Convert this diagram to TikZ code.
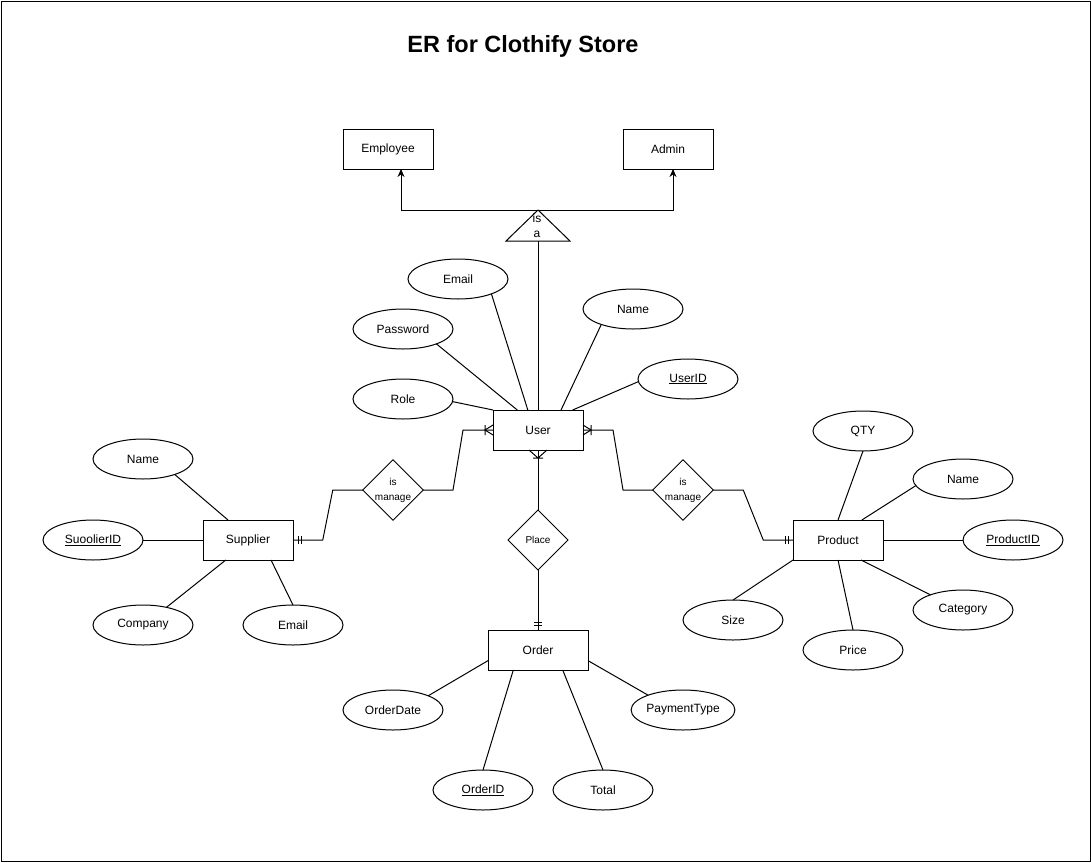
\documentclass[tikz,border=0pt]{standalone}
\usepackage{fontspec}
\setmainfont{Liberation Sans}
\usepackage{tikz}
\usetikzlibrary{shapes.geometric, arrows.meta, positioning}

\begin{document}
\begin{tikzpicture}[x=1pt, y=-1pt, line width=1pt, node distance=60pt]
	% Styles
	\tikzstyle{entity} = [draw, rectangle, minimum height=40pt, minimum width=90pt, inner sep=0pt, outer sep=0pt, font=\fontsize{12}{14}\selectfont]
	\tikzstyle{attr} = [draw, ellipse, minimum height=40pt, minimum width=100pt, inner sep=0pt, outer sep=0pt, font=\fontsize{12}{14}\selectfont]
	\tikzstyle{rel} = [draw, diamond, aspect=1, minimum size=60pt, inner sep=0pt, outer sep=0pt, align=center, font=\fontsize{10}{15}\selectfont]
	\tikzstyle{arrow} = [-{Stealth[length=8pt, width=7pt]}]
	\tikzset{
		pics/oneormany/.style={code={\draw (-8,-5) -- (-8,5) (0,-#1) -- (-8,0) -- (0,#1);}},
		pics/mandone/.style={code={\draw (-5,-4) -- (-5,4) (-8,-4) -- (-8,4);}}
	}

	\useasboundingbox (0,0) rectangle (1091,862);
	\draw (1,1) rectangle (1090,861);

	% Title
	\node (title) at (523,46) {\fontsize{23.5}{27}\selectfont\bfseries ER for Clothify Store};

	% Nodes
	\node (employee) [entity] at (388,149) {Employee};
	\node (admin) [entity, right=190pt of employee] {Admin};
	\draw (506,241) -- (538,210) -- (570,241) -- cycle;
	\coordinate (isatop) at (538,210);
	\coordinate (isabase) at (538,241);
	\node (isa) at (537,226) [align=center, inner sep=0pt, font=\fontsize{12}{15}\selectfont] {is\\a};

	\node (user) [entity] at (538,430) {User};
	\node (uemail) [attr] at (458,279) {Email};
	\node (upass) [attr] at (403,329) {Password};
	\node (urole) [attr] at (403,399) {Role};
	\node (uname) [attr] at (633,309) {Name};
	\node (uid) [attr] at (688,379) {\underline{UserID}};

	\node (mngsup) [rel] at (393,490) {is\\manage};
	\node (mngprod) [rel] at (683,490) {is\\manage};
	\node (place) [rel, below=of user] {Place};

	\node (supplier) [entity] at (248,540) {Supplier};
	\node (sname) [attr] at (143,459) {Name};
	\node (sid) [attr, left=of supplier] {\underline{SuoolierID}};
	\node (scomp) [attr] at (143,625) {Company};
	\node (semail) [attr] at (293,625) {Email};

	\node (product) [entity] at (838,540) {Product};
	\node (pqty) [attr] at (863,431) {QTY};
	\node (pname) [attr] at (963,479) {Name};
	\node (pid) [attr, right=80pt of product] {\underline{ProductID}};
	\node (pcat) [attr] at (963,610) {Category};
	\node (pprice) [attr] at (853,650) {Price};
	\node (psize) [attr] at (733,620) {Size};

	\node (order) [entity, minimum width=100pt, below=of place] {Order};
	\node (odate) [attr] at (393,710) {OrderDate};
	\node (opay) [attr] at (683,710) {PaymentType};
	\node (oid) [attr] at (483,790) {\underline{OrderID}};
	\node (ototal) [attr] at (603,790) {Total};

	% Connections
	\draw [arrow] (isatop) -| ([xshift=13pt]employee.south);
	\draw [arrow] (isatop) -| ([xshift=5pt]admin.south);
	\draw (isabase) -- (user.north);

	\draw (uemail.336) -- (user.117);
	\draw (upass.336) -- (user.136);
	\draw (urole.357) -- (user.north west);
	\draw (uname.206) -- (user.41);
	\draw (uid.183) -- (user.30);

	\draw (user.west) -- ++(-30,0) -- ++(-10,60) -- (mngsup.east);
	\draw (mngsup.west) -- ++(-30,0) -- ++(-10,50) -- (supplier.east);
	\draw (user.east) -- ++(30,0) -- ++(10,60) -- (mngprod.west);
	\draw (mngprod.east) -- ++(30,0) -- ++(20,50) -- (product.west);
	\draw (user.south) -- (place.north);
	\draw (place.south) -- (order.north);

	\pic at (user.west) {oneormany=5};
	\pic [rotate=180] at (user.east) {oneormany=5};
	\pic [rotate=90] at (user.south) {oneormany=9};
	\pic [rotate=180] at (supplier.east) {mandone};
	\pic at (product.west) {mandone};
	\pic [rotate=-90] at (order.north) {mandone};

	\draw (sname.334) -- (supplier.135);
	\draw (sid) -- (supplier);
	\draw (scomp.37) -- (supplier.222);
	\draw (semail.north) -- (supplier.319);

	\draw (pqty.south) -- (product.north);
	\draw (pname.188) -- (product.40);
	\draw (pid) -- (product);
	\draw (pcat.155) -- (product.319);
	\draw (pprice.north) -- (product.south);
	\draw (psize.north) -- (product.south west);

	\draw (odate.22) -- (order.192);
	\draw (oid.north) -- (order.219);
	\draw (ototal.north) -- (order.321);
	\draw (opay.157) -- (order.348);
\end{tikzpicture}
\end{document}
